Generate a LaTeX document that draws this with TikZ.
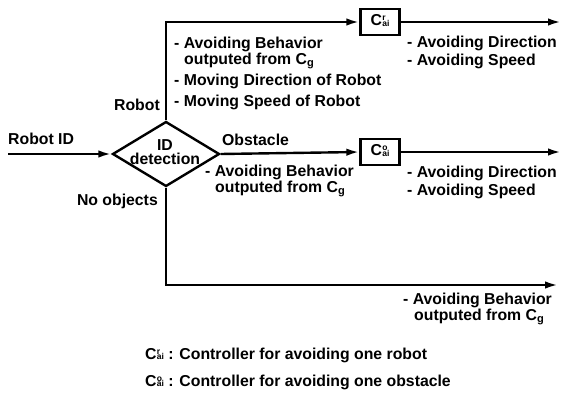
\documentclass[tikz,border=0pt]{standalone}
\usepackage{fontspec}
\setmainfont{Liberation Sans}
\usetikzlibrary{arrows.meta,shapes.geometric}

% controller symbol with stacked super- and subscript
\newcommand{\ctrl}[1]{C\kern0.3pt\raisebox{0.2ex}{\fontsize{8.5}{8.5}\selectfont
  \begin{tabular}[c]{@{}l@{}}#1\\[-3pt]ai\end{tabular}}}
\newcommand{\cg}{C\textsubscript{g}}

\begin{document}
\begin{tikzpicture}[x=1pt,y=-1pt,
  lbl/.style={font=\bfseries\fontsize{15.8}{16}\selectfont, inner sep=0pt},
  wire/.style={line width=2.4pt},
  arr/.style={wire, -{Latex[length=13pt,width=7.5pt]}},
  ctrlbox/.style={draw, line width=2.4pt, minimum width=39pt, minimum height=26pt,
                  inner sep=0pt, font=\bfseries\fontsize{15.8}{16}\selectfont}]
  \useasboundingbox (0,0) rectangle (563,401);

  % decision diamond
  \node[diamond, draw, line width=2.4pt, minimum width=107pt, minimum height=65pt,
        inner sep=0pt] (det) at (166,154) {};
  \node[lbl, align=center] (detlbl) at (165,152) {ID\\[-2pt]detection};

  % controllers
  \node[ctrlbox] (cr) at (380,22) {\ctrl{r}};
  \node[ctrlbox] (co) at (380,152) {\ctrl{o}};

  % free ends
  \coordinate (in)   at (8,154);
  \coordinate (outr) at (561,22);
  \coordinate (outo) at (561,152);
  \coordinate (outn) at (558,285);

  % connectors
  \draw[arr] (in) -- (det.west);
  \draw[arr] (det.north) |- (cr.west);
  \draw[arr] (cr.east) -- (outr);
  \draw[arr] (det.east) -- (co.west);
  \draw[arr] (co.east) -- (outo);
  \draw[arr] (det.south) |- (outn);

  % branch labels
  \node[lbl, anchor=west] (robotid) at (8,139) {Robot ID};
  \node[lbl, anchor=east] (robot) at (160,105) {Robot};
  \node[lbl, anchor=west] (obst) at (222,140) {Obstacle};
  \node[lbl, anchor=east] (noobj) at (158,201) {No objects};

  % signal descriptions
  \node[lbl, anchor=west] (t1) at (174,44) {- Avoiding Behavior};
  \node[lbl, anchor=west] (t2) at (184,61) {outputed from \cg};
  \node[lbl, anchor=west] (t3) at (174,81) {- Moving Direction of Robot};
  \node[lbl, anchor=west] (t4) at (174,102) {- Moving Speed of Robot};

  \node[lbl, anchor=west] (r1) at (407,43) {- Avoiding Direction};
  \node[lbl, anchor=west] (r2) at (407,61) {- Avoiding Speed};

  \node[lbl, anchor=west] (m1) at (205,172) {- Avoiding Behavior};
  \node[lbl, anchor=west] (m2) at (215,189) {outputed from \cg};

  \node[lbl, anchor=west] (o1) at (407,173) {- Avoiding Direction};
  \node[lbl, anchor=west] (o2) at (407,191) {- Avoiding Speed};

  \node[lbl, anchor=west] (n1) at (403,300) {- Avoiding Behavior};
  \node[lbl, anchor=west] (n2) at (414,317) {outputed from \cg};

  % legend
  \node[lbl, anchor=west] (leg1) at (145,355) {\ctrl{r} : Controller for avoiding one robot};
  \node[lbl, anchor=west] (leg2) at (145,382) {\ctrl{o} : Controller for avoiding one obstacle};
\end{tikzpicture}
\end{document}
